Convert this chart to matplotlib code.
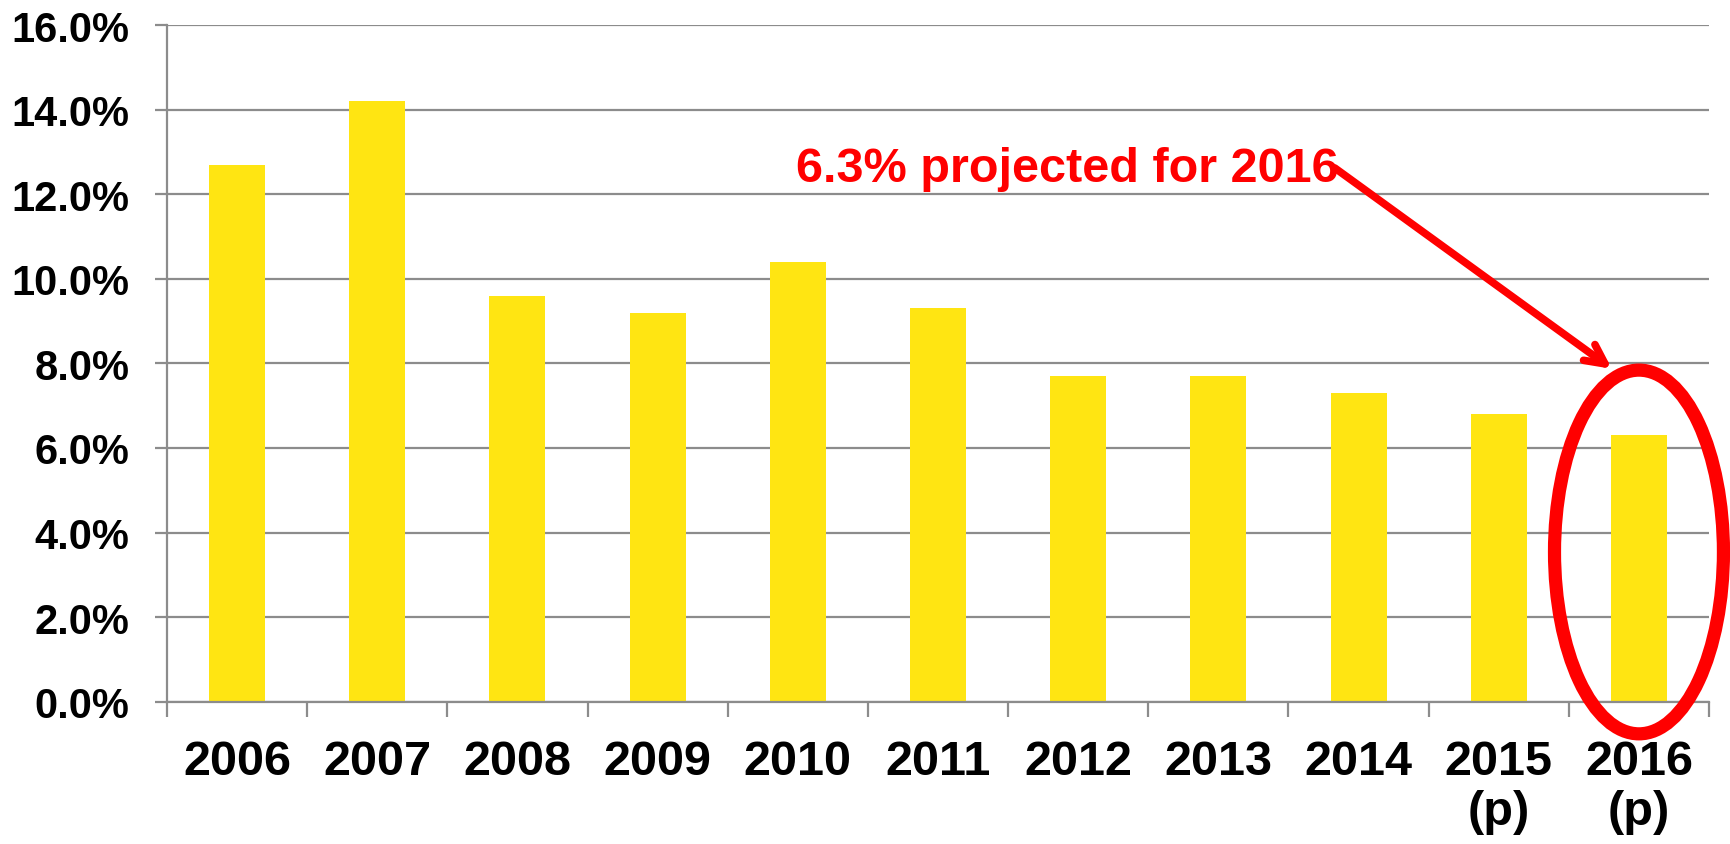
import matplotlib
matplotlib.use("Agg")
import matplotlib.pyplot as plt
from matplotlib.patches import Ellipse
import numpy as np

years = ["2006", "2007", "2008", "2009", "2010", "2011", "2012", "2013",
         "2014", "2015\n(p)", "2016\n(p)"]
rates = [12.7, 14.2, 9.6, 9.2, 10.4, 9.3, 7.7, 7.7, 7.3, 6.8, 6.3]
y_ticks = [0, 2, 4, 6, 8, 10, 12, 14, 16]
note = "6.3% projected for 2016"

plt.rcParams["font.family"] = ["Liberation Sans", "DejaVu Sans"]
plt.rcParams["font.weight"] = "bold"

fig = plt.figure(figsize=(17.3, 8.45), dpi=100)
ax = fig.add_axes([0.0965, 0.1684, 0.8914, 0.8008])

grid_c = "#8c8c8c"
x = np.arange(len(years))
ax.bar(x, rates, width=0.4, color="#FFE512", zorder=2)

ax.set_xlim(-0.5, len(years) - 0.5)
ax.set_ylim(0, 16)
ax.set_yticks(y_ticks)
ax.set_yticklabels([f"{v:.1f}%" for v in y_ticks])
ax.yaxis.grid(True, color=grid_c, lw=1.6, zorder=0)
ax.set_axisbelow(True)

# ticks on category boundaries, labels centred under bars
ax.set_xticks(np.arange(len(years) + 1) - 0.5)
ax.set_xticklabels([])
ax.set_xticks(x, minor=True)
ax.set_xticklabels(years, minor=True, fontsize=35, fontweight="bold",
                   linespacing=1.15)
ax.tick_params(axis="x", which="major", length=11, width=1.6, color=grid_c,
               direction="out")
ax.tick_params(axis="x", which="minor", length=0, pad=27)
ax.tick_params(axis="y", length=9, width=1.6, color=grid_c, pad=18,
               labelsize=30)
for lab in ax.get_yticklabels():
    lab.set_fontweight("bold")

for side in ["top", "right"]:
    ax.spines[side].set_visible(False)
for side in ["left", "bottom"]:
    ax.spines[side].set_color(grid_c)
    ax.spines[side].set_linewidth(1.6)

ax.text(3.986, 12.31, note, color="red", fontsize=35, fontweight="bold",
        ha="left", va="baseline")
ax.annotate("", xy=(9.807, 7.87), xytext=(7.83, 12.62),
            arrowprops=dict(arrowstyle="->,head_length=1.4,head_width=0.7",
                            color="red", lw=5.5, capstyle="round",
                            shrinkA=0, shrinkB=0),
            annotation_clip=False)
ax.add_patch(Ellipse((10, 3.54), width=1.205, height=8.6, fill=False,
                     edgecolor="red", lw=9.5, clip_on=False, zorder=5))

fig.savefig("out.png", dpi=100)
